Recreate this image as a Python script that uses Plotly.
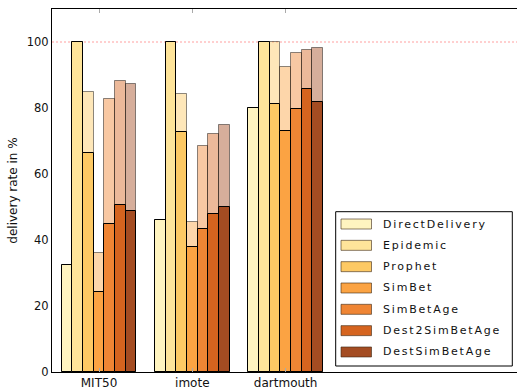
import plotly.graph_objects as go

categories = ["MIT50", "imote", "dartmouth"]
protocols = ["DirectDelivery", "Epidemic", "Prophet", "SimBet",
             "SimBetAge", "Dest2SimBetAge", "DestSimBetAge"]

# delivery rate in % per protocol: solid part and full (lighter) height
mit50_base = [32.3, 100, 66.4, 24.1, 44.7, 50.6, 48.9]
mit50_top = [32.3, 100, 84.8, 36.2, 82.8, 88.2, 87.3]
imote_base = [46.1, 100, 72.7, 38.0, 43.3, 48.0, 50.0]
imote_top = [46.1, 100, 84.2, 45.6, 68.4, 72.0, 74.7]
dartmouth_base = [80.0, 100, 81.2, 73.1, 79.7, 85.8, 81.8]
dartmouth_top = [80.0, 100, 100, 92.4, 96.6, 97.6, 98.2]

y_ticks = [0, 20, 40, 60, 80, 100]
reference_level = 100

colors = ["#fff4c0", "#fee49a", "#fdc964", "#fba343",
          "#ef8534", "#d5641f", "#a44c22"]

base_rows = [mit50_base, imote_base, dartmouth_base]
top_rows = [mit50_top, imote_top, dartmouth_top]

FONT = "DejaVu Sans"
W, H = 517, 389
ML, MR, MT, MB = 52, 0, 9, 17
n = len(protocols)
bar_w = 0.8 / n


def hex_rgba(h, a):
    h = h.lstrip("#")
    r, g, b = int(h[0:2], 16), int(h[2:4], 16), int(h[4:6], 16)
    return f"rgba({r},{g},{b},{a})"


fig = go.Figure()

# lighter full-height bars first, solid bars on top
for i, name in enumerate(protocols):
    fig.add_trace(go.Bar(
        x=categories, y=[row[i] for row in top_rows],
        width=bar_w, offset=-0.4 + i * bar_w,
        marker=dict(color=hex_rgba(colors[i], 0.45),
                    line=dict(color="rgba(0,0,0,0.45)", width=1)),
        showlegend=False, hoverinfo="skip",
    ))
for i, name in enumerate(protocols):
    fig.add_trace(go.Bar(
        x=categories, y=[row[i] for row in base_rows],
        width=bar_w, offset=-0.4 + i * bar_w, name=name,
        marker=dict(color=colors[i], line=dict(color="black", width=1)),
        showlegend=False,
    ))

pw = W - ML - MR
ph = H - MT - MB


def px_x(px):
    return (px - ML) / pw


def px_y(py):
    return (H - MB - py) / ph


shapes = [dict(type="line", xref="paper", x0=0, x1=1, yref="y",
               y0=reference_level, y1=reference_level, layer="below",
               line=dict(color="#ff9f9f", width=1, dash="2px,2px"))]

# legend box
shapes.append(dict(type="rect", xref="paper", yref="paper",
                   x0=px_x(335.7), x1=px_x(512.3), y0=px_y(366), y1=px_y(211.7),
                   fillcolor="white", line=dict(color="black", width=1),
                   layer="above"))
annotations = []
for i, name in enumerate(protocols):
    cy = 224 + i * 21.33
    shapes.append(dict(type="rect", xref="paper", yref="paper",
                       x0=px_x(341), x1=px_x(371.5),
                       y0=px_y(cy + 5), y1=px_y(cy - 5),
                       fillcolor=colors[i],
                       line=dict(color="rgba(60,40,20,0.6)", width=1),
                       layer="above"))
    annotations.append(dict(xref="paper", yref="paper", x=px_x(380.5),
                            y=px_y(cy), text=name, showarrow=False,
                            xanchor="left", yanchor="middle", align="left",
                            font=dict(family=FONT, size=11, color="#111")))

fig.update_layout(
    width=W, height=H,
    margin=dict(l=ML, r=MR, t=MT, b=MB, pad=0, autoexpand=False),
    paper_bgcolor="white", plot_bgcolor="white",
    barmode="overlay", bargap=0,
    font=dict(family=FONT, size=12, color="#111"),
    shapes=shapes, annotations=annotations,
    xaxis=dict(type="category", categoryorder="array", categoryarray=categories,
               range=[-0.504, 4.48], showgrid=False, zeroline=False,
               showline=True, linecolor="black", linewidth=1, mirror="ticks",
               ticks="inside", ticklen=4, tickcolor="#aaa", tickwidth=1,
               tickfont=dict(size=12), automargin=False),
    yaxis=dict(range=[0, 110], tickvals=y_ticks, showgrid=False, zeroline=False,
               showline=True, linecolor="black", linewidth=1, ticks="",
               tickfont=dict(size=11.5), automargin=False,
               title=dict(text="delivery rate in %", font=dict(size=12),
                          standoff=6)),
)

spacing_js = """
document.querySelectorAll('.annotation-text').forEach(function(t){
  t.style.letterSpacing = '1.8px';
});
"""

fig.write_html("out.html", post_script=spacing_js)
